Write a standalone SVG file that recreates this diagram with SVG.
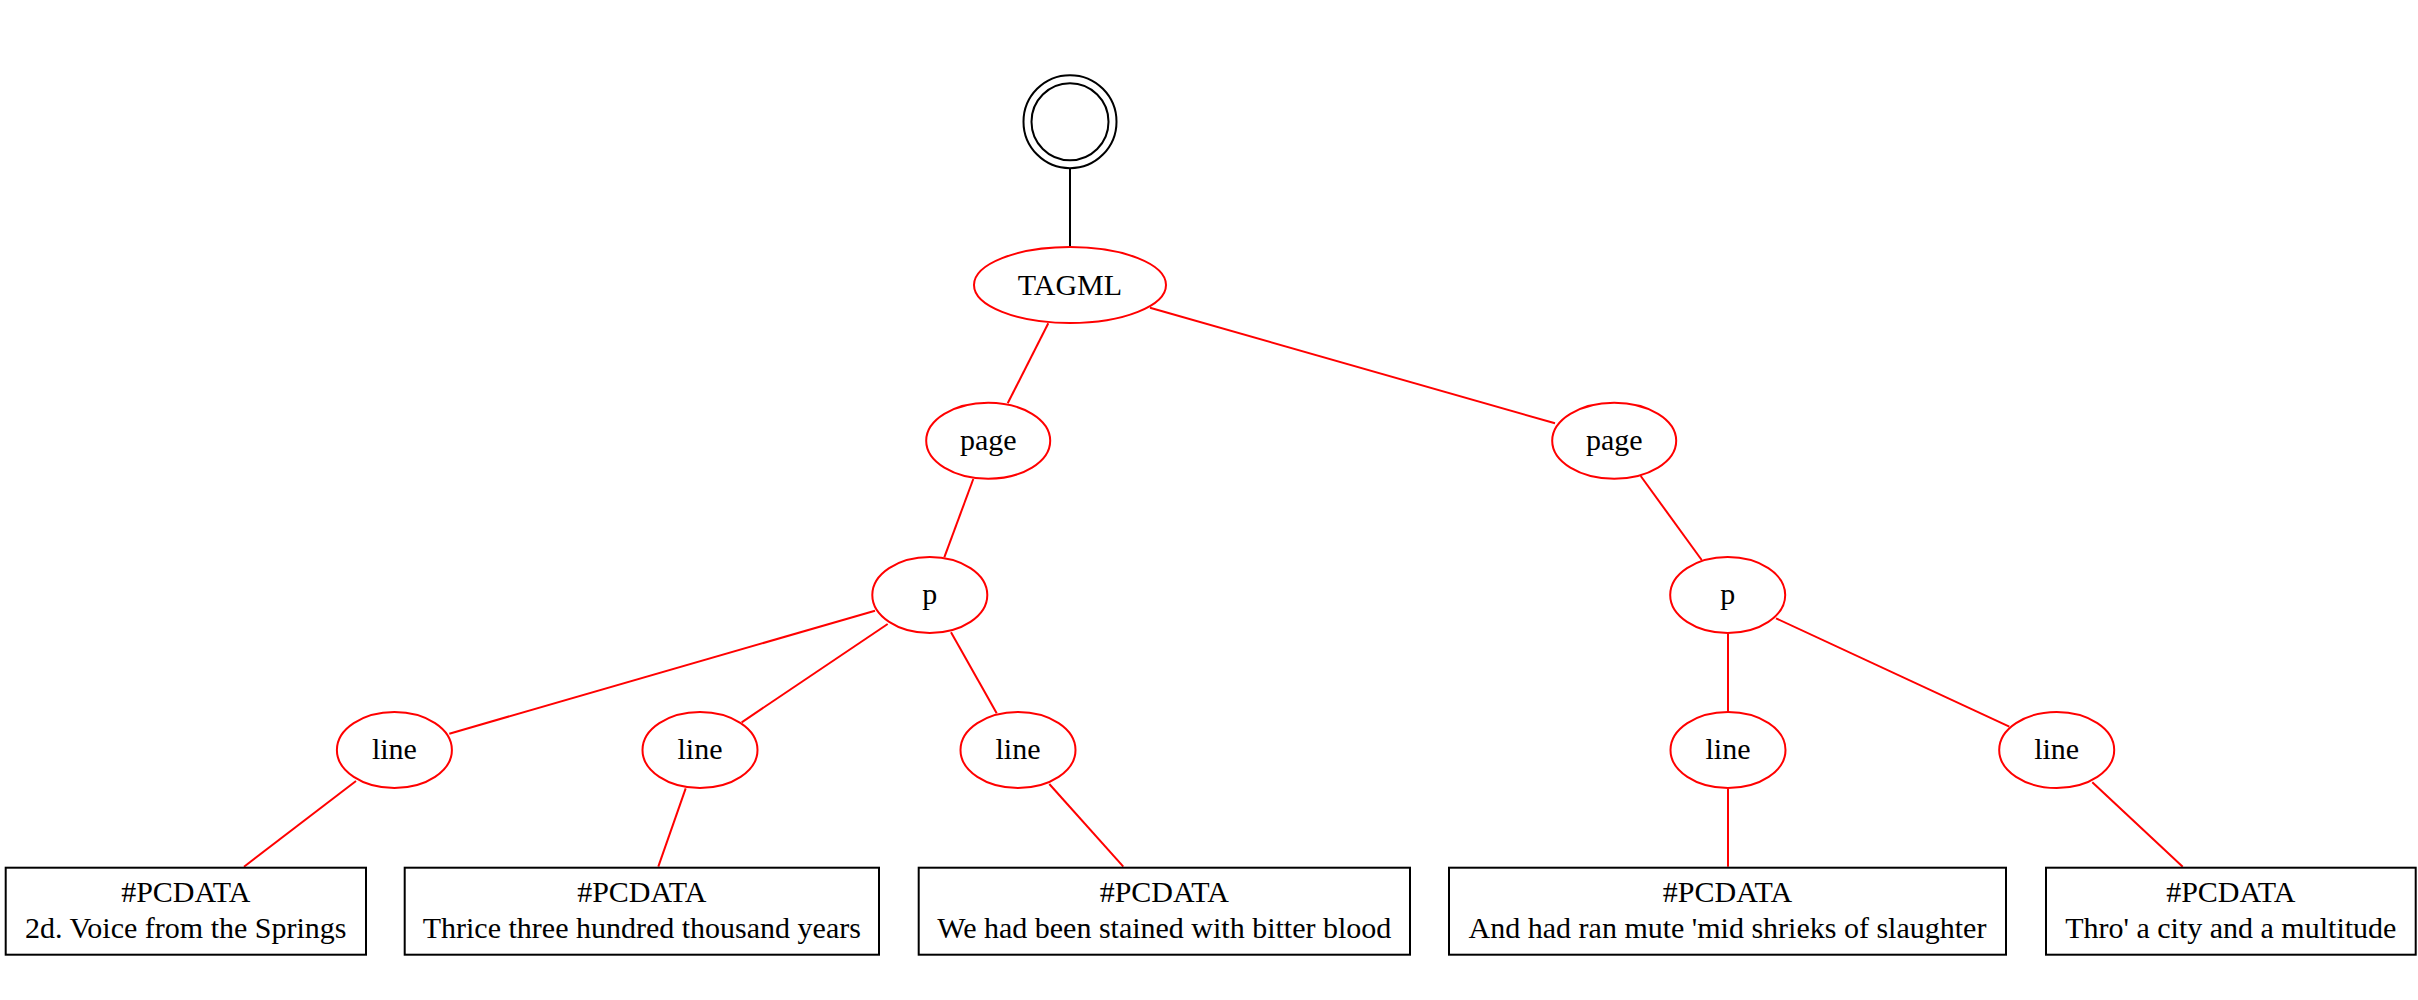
<svg xmlns="http://www.w3.org/2000/svg" width="2418" height="1000" viewBox="0 0 2418 1000">
<style>
  .bg { fill: #ffffff; }
  .el { fill: none; stroke: #ff0000; stroke-width: 2; }
  .box { fill: none; stroke: #000000; stroke-width: 2; }
  .start { fill: none; stroke: #000000; stroke-width: 2; }
  .edge { stroke: #ff0000; stroke-width: 2; fill: none; }
  .edge-black { stroke: #000000; stroke-width: 2; fill: none; }
  text { font-family: "Liberation Serif", "Times New Roman", serif; font-size: 30px; fill: #000000; text-anchor: middle; }
</style>
<rect class="bg" x="0" y="0" width="2418" height="1000"/>
<g id="connectors">
  <line class="edge-black" x1="1070" y1="169" x2="1070" y2="246.5"/>
  <line class="edge" x1="1048.3" y1="323.3" x2="1007.7" y2="403.3"/>
  <line class="edge" x1="1150" y1="307.7" x2="1555" y2="423.3"/>
  <line class="edge" x1="973.3" y1="479" x2="944.3" y2="557.3"/>
  <line class="edge" x1="1640.7" y1="476" x2="1701.7" y2="560"/>
  <line class="edge" x1="875" y1="610.7" x2="449.3" y2="733.7"/>
  <line class="edge" x1="887.7" y1="624" x2="741.7" y2="722.3"/>
  <line class="edge" x1="951" y1="632.3" x2="996.7" y2="713.3"/>
  <line class="edge" x1="1728" y1="633.5" x2="1728" y2="711"/>
  <line class="edge" x1="1776" y1="618.3" x2="2009.3" y2="726.7"/>
  <line class="edge" x1="356" y1="781" x2="244" y2="866.7"/>
  <line class="edge" x1="685.7" y1="788.3" x2="658.3" y2="866.7"/>
  <line class="edge" x1="1049.3" y1="784" x2="1123.3" y2="866.7"/>
  <line class="edge" x1="1728" y1="789" x2="1728" y2="866.7"/>
  <line class="edge" x1="2092.3" y1="782.3" x2="2182.7" y2="866.7"/>
</g>
<g id="start">
  <circle class="start" cx="1070" cy="121.7" r="46.5"/>
  <circle class="start" cx="1070" cy="121.7" r="38.5"/>
</g>
<g id="tagml">
  <ellipse class="el" cx="1070" cy="285" rx="96" ry="38"/>
  <text x="1070" y="295">TAGML</text>
</g>
<g id="page1">
  <ellipse class="el" cx="988.2" cy="440.7" rx="62" ry="38"/>
  <text x="988.2" y="450">page</text>
</g>
<g id="page2">
  <ellipse class="el" cx="1614.2" cy="440.7" rx="62" ry="38"/>
  <text x="1614.2" y="450">page</text>
</g>
<g id="p1">
  <ellipse class="el" cx="929.8" cy="595" rx="57.5" ry="38"/>
  <text x="929.8" y="604.3">p</text>
</g>
<g id="p2">
  <ellipse class="el" cx="1727.7" cy="595" rx="57.5" ry="38"/>
  <text x="1727.7" y="604.3">p</text>
</g>
<g id="line1">
  <ellipse class="el" cx="394.4" cy="750" rx="57.5" ry="38"/>
  <text x="394.4" y="759.3">line</text>
</g>
<g id="line2">
  <ellipse class="el" cx="700" cy="750" rx="57.5" ry="38"/>
  <text x="700" y="759.3">line</text>
</g>
<g id="line3">
  <ellipse class="el" cx="1018" cy="750" rx="57.5" ry="38"/>
  <text x="1018" y="759.3">line</text>
</g>
<g id="line4">
  <ellipse class="el" cx="1728" cy="750" rx="57.5" ry="38"/>
  <text x="1728" y="759.3">line</text>
</g>
<g id="line5">
  <ellipse class="el" cx="2056.7" cy="750" rx="57.5" ry="38"/>
  <text x="2056.7" y="759.3">line</text>
</g>
<g id="text1">
  <rect class="box" x="5.7" y="867.7" width="360.3" height="87"/>
  <text x="185.8" y="902">#PCDATA</text>
  <text x="185.8" y="937.5">2d. Voice from the Springs</text>
</g>
<g id="text2">
  <rect class="box" x="404.7" y="867.7" width="474.3" height="87"/>
  <text x="641.8" y="902">#PCDATA</text>
  <text x="641.8" y="937.5">Thrice three hundred thousand years</text>
</g>
<g id="text3">
  <rect class="box" x="918.7" y="867.7" width="491.3" height="87"/>
  <text x="1164.3" y="902">#PCDATA</text>
  <text x="1164.3" y="937.5">We had been stained with bitter blood</text>
</g>
<g id="text4">
  <rect class="box" x="1449" y="867.7" width="557" height="87"/>
  <text x="1727.5" y="902">#PCDATA</text>
  <text x="1727.5" y="937.5">And had ran mute 'mid shrieks of slaughter</text>
</g>
<g id="text5">
  <rect class="box" x="2046" y="867.7" width="369.7" height="87"/>
  <text x="2230.8" y="902">#PCDATA</text>
  <text x="2230.8" y="937.5">Thro' a city and a multitude</text>
</g>
</svg>
